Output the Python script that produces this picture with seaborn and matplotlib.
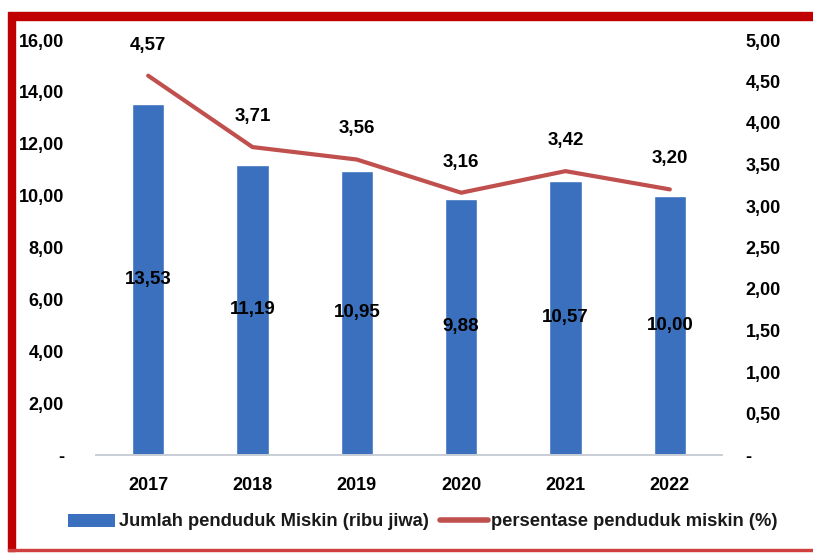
import pandas as pd
import matplotlib.pyplot as plt
import seaborn as sns
from matplotlib.patches import Rectangle, Patch
from matplotlib.lines import Line2D

# Data
tahun = ['2017', '2018', '2019', '2020', '2021', '2022']
jumlah_miskin = [13.53, 11.19, 10.95, 9.88, 10.57, 10.00]
persen_miskin = [4.57, 3.71, 3.56, 3.16, 3.42, 3.20]

sns.set_theme(style="white")
plt.rcParams['font.family'] = ['Liberation Sans', 'DejaVu Sans']

df = pd.DataFrame({'tahun': tahun, 'jumlah': jumlah_miskin, 'persen': persen_miskin})

def fmt(v):
    return f"{v:.2f}".replace('.', ',')

fig = plt.figure(figsize=(8.13, 5.55), dpi=100)
ax = fig.add_axes([96 / 813, 1 - 455 / 555, (722 - 96) / 813, 415 / 555])

bar_color = '#3A70BE'
line_color = '#C0504D'

sns.barplot(data=df, x='tahun', y='jumlah', color=bar_color, width=0.31,
            saturation=1, ax=ax)
ax.set_ylim(0, 16.0)
ax.set_xlim(-0.5, len(tahun) - 0.5)
ax.set_yticks([0, 2, 4, 6, 8, 10, 12, 14, 16])
ax.set_yticklabels(['-'] + [fmt(v) for v in [2, 4, 6, 8, 10, 12, 14, 16]])

for i, v in enumerate(jumlah_miskin):
    ax.text(i, v / 2, fmt(v), ha='center', va='center', fontsize=13.5,
            fontweight='bold', color='black')

ax2 = ax.twinx()
sns.lineplot(data=df, x='tahun', y='persen', color=line_color, linewidth=3,
             ax=ax2, sort=False)
ax2.set_ylim(0, 5.0)
ax2.set_yticks([0, 0.5, 1, 1.5, 2, 2.5, 3, 3.5, 4, 4.5, 5])
ax2.set_yticklabels(['-'] + [fmt(v) for v in [0.5, 1, 1.5, 2, 2.5, 3, 3.5, 4, 4.5, 5]])

for i, v in enumerate(persen_miskin):
    ax2.annotate(fmt(v), (i, v), xytext=(0, 22), textcoords='offset points',
                 ha='center', va='center', fontsize=13.5, fontweight='bold',
                 color='black')

for a in (ax, ax2):
    a.set_xlabel('')
    a.set_ylabel('')
    for s in ['top', 'left', 'right']:
        a.spines[s].set_visible(False)
    a.spines['bottom'].set_color('#C9CED6')
    a.spines['bottom'].set_linewidth(1.2)
    a.tick_params(axis='both', length=0, labelsize=13)
    for lbl in a.get_xticklabels() + a.get_yticklabels():
        lbl.set_fontweight('bold')
        lbl.set_color('black')

ax.tick_params(axis='y', pad=23)
ax2.tick_params(axis='y', pad=17)
ax.tick_params(axis='x', pad=16)

handles = [Patch(facecolor=bar_color, edgecolor='none'),
           Line2D([0], [0], color=line_color, linewidth=4)]
labels = ['Jumlah penduduk Miskin (ribu jiwa)', 'persentase penduduk miskin (%)']
leg = fig.legend(handles, labels, loc='center', bbox_to_anchor=(0.52, 1 - 522 / 555),
                 ncol=2, frameon=False, fontsize=13.2, handlelength=2.6,
                 handletextpad=0.2, columnspacing=0.6)
for t in leg.get_texts():
    t.set_fontweight('bold')
    t.set_color('#1a1a1a')

# Red frame
frame_color = '#C00000'
fig.patches.append(Rectangle((8 / 813, 1 - 20 / 555), 805 / 813, 8 / 555,
                             transform=fig.transFigure, color=frame_color, zorder=5))
fig.patches.append(Rectangle((8 / 813, 1 - 551 / 555), 7 / 813, 531 / 555,
                             transform=fig.transFigure, color=frame_color, zorder=5))
fig.patches.append(Rectangle((8 / 813, 1 - 551 / 555), 805 / 813, 2 / 555,
                             transform=fig.transFigure, color='#D04040', zorder=5))

fig.savefig('out.png', dpi=100)
